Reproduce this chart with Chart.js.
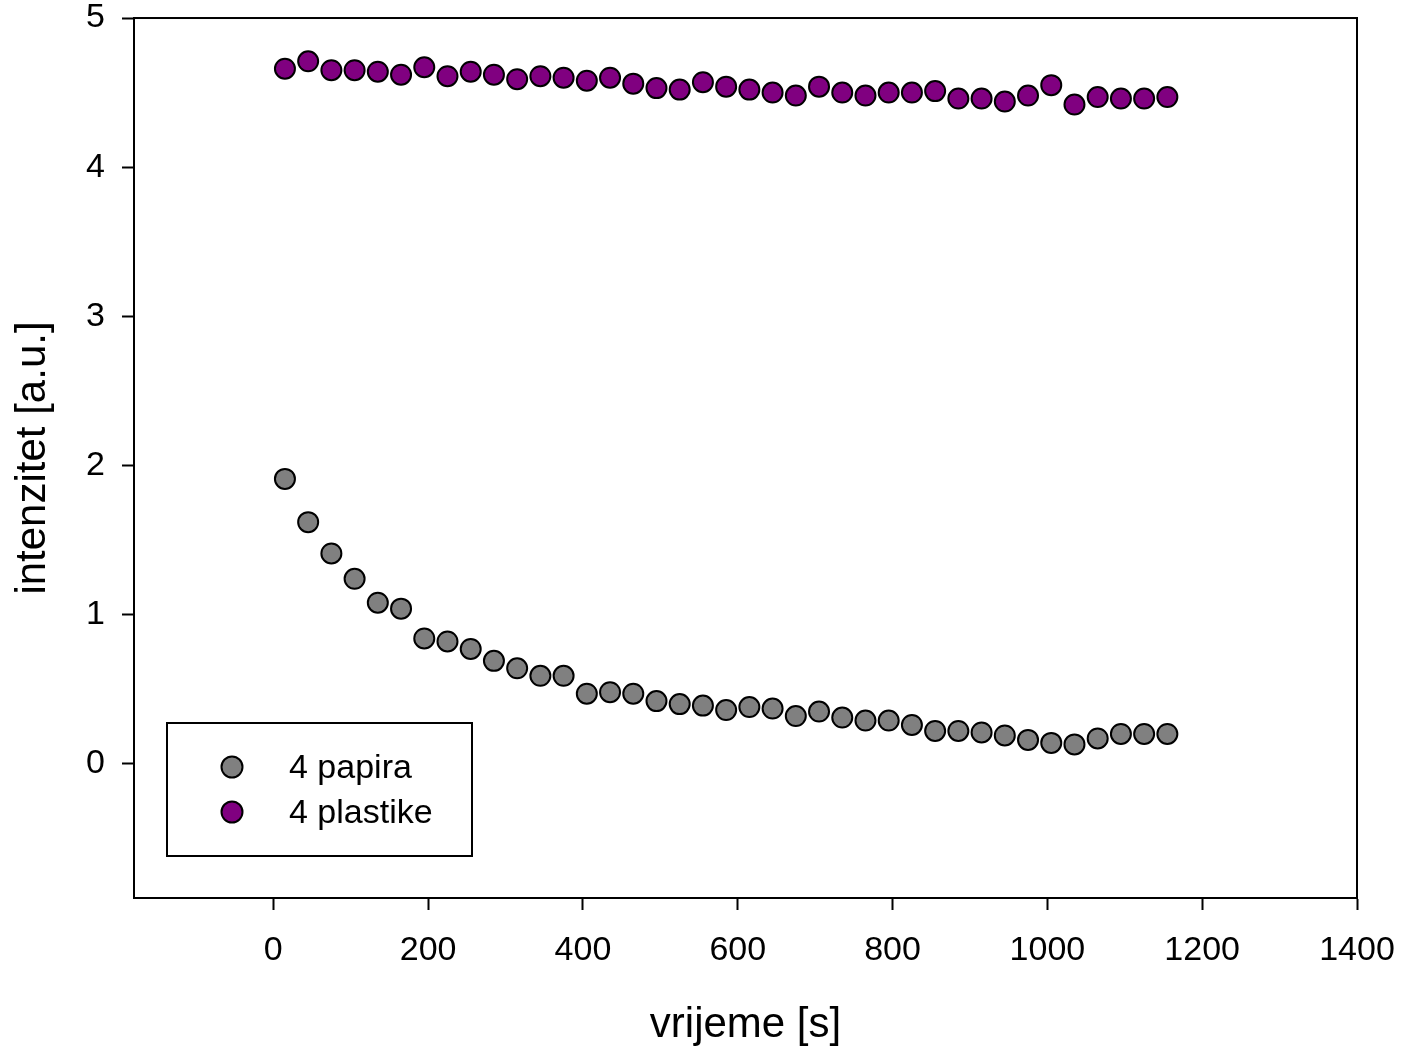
<!DOCTYPE html>
<html>
<head>
<meta charset="utf-8">
<script src="https://cdn.jsdelivr.net/npm/chart.js@4/dist/chart.umd.min.js"></script>
<style>
	html, body { margin: 0; padding: 0; background: #fff; }
	#wrap { width: 1405px; height: 1046px; }
</style>
</head>
<body>
<div id="wrap"><canvas id="intensityChart"></canvas></div>
<script>
const times = [15, 45, 75, 105, 135, 165, 195, 225, 255, 285, 315, 345, 375, 405, 435, 465, 495, 525, 555, 585,
	615, 645, 675, 705, 735, 765, 795, 825, 855, 885, 915, 945, 975, 1005, 1035, 1065, 1095, 1125, 1155];

const papira = [1.91, 1.62, 1.41, 1.24, 1.08, 1.04, 0.84, 0.82, 0.77, 0.69, 0.64, 0.59, 0.59, 0.47, 0.48, 0.47, 0.42, 0.40, 0.39, 0.36,
	0.38, 0.37, 0.32, 0.35, 0.31, 0.29, 0.29, 0.26, 0.22, 0.22, 0.21, 0.19, 0.16, 0.14, 0.13, 0.17, 0.20, 0.20, 0.20];

const plastike = [4.66, 4.71, 4.65, 4.65, 4.64, 4.62, 4.67, 4.61, 4.64, 4.62, 4.59, 4.61, 4.60, 4.58, 4.60, 4.56, 4.53, 4.52, 4.57, 4.54,
	4.52, 4.50, 4.48, 4.54, 4.50, 4.48, 4.50, 4.50, 4.51, 4.46, 4.46, 4.44, 4.48, 4.55, 4.42, 4.47, 4.46, 4.46, 4.47];

const seriesNames = ["4 papira", "4 plastike"];
const seriesColors = ["#808080", "#800080"];
const xTickValues = [0, 200, 400, 600, 800, 1000, 1200, 1400];
const yTickValues = [0, 1, 2, 3, 4, 5];

const FONT = "'Liberation Sans', Arial, sans-serif";

const toPoints = (vals) => vals.map((v, i) => ({ x: times[i], y: v }));

// frame round the plot area + legend box in the lower left
const framePlugin = {
	id: "frame",
	afterDraw(chart) {
		const { ctx, chartArea } = chart;
		ctx.save();
		ctx.strokeStyle = "#000";
		ctx.lineWidth = 2;
		ctx.strokeRect(chartArea.left, chartArea.top, chartArea.right - chartArea.left, chartArea.bottom - chartArea.top);

		// legend
		const bx = chartArea.left + 33;
		const by = chartArea.bottom - 175;
		ctx.strokeRect(bx, by, 305, 133);
		ctx.font = "34px " + FONT;
		ctx.textBaseline = "middle";
		ctx.textAlign = "left";
		seriesNames.forEach((name, i) => {
			const cy = by + 44 + i * 45;
			ctx.beginPath();
			ctx.arc(bx + 65, cy, 10.5, 0, Math.PI * 2);
			ctx.fillStyle = seriesColors[i];
			ctx.fill();
			ctx.lineWidth = 2;
			ctx.strokeStyle = "#000";
			ctx.stroke();
			ctx.fillStyle = "#000";
			ctx.fillText(name, bx + 122, cy + 2);
		});
		ctx.restore();
	},
};

new Chart(document.getElementById("intensityChart").getContext("2d"), {
	type: "scatter",
	data: {
		datasets: [
			{
				label: seriesNames[0],
				data: toPoints(papira),
				backgroundColor: seriesColors[0],
				borderColor: "#000",
				borderWidth: 2,
				pointRadius: 10,
				pointHoverRadius: 10,
			},
			{
				label: seriesNames[1],
				data: toPoints(plastike),
				backgroundColor: seriesColors[1],
				borderColor: "#000",
				borderWidth: 2,
				pointRadius: 10,
				pointHoverRadius: 10,
			},
		],
	},
	options: {
		responsive: true,
		maintainAspectRatio: false,
		animation: false,
		layout: { padding: { top: 0, right: 48, left: 0, bottom: 0 } },
		plugins: {
			legend: { display: false },
			tooltip: { enabled: false },
		},
		scales: {
			x: {
				type: "linear",
				min: -180,
				max: 1400,
				afterBuildTicks: (axis) => {
					axis.ticks = xTickValues.map((v) => ({ value: v }));
				},
				afterFit: (axis) => {
					axis.height = 148;
				},
				grid: { drawOnChartArea: false, drawTicks: true, tickLength: 12, tickWidth: 2, tickColor: "#000" },
				border: { display: true, color: "#000", width: 2 },
				ticks: {
					color: "#000",
					padding: 10,
					maxRotation: 0,
					font: { family: FONT, size: 34, lineHeight: 1.82 },
					callback: (v) => String(v),
				},
				title: {
					display: true,
					text: "vrijeme [s]",
					color: "#000",
					font: { family: FONT, size: 42, lineHeight: 1.0 },
					padding: { top: 0, bottom: 0 },
				},
			},
			y: {
				type: "linear",
				min: -0.9,
				max: 5,
				afterBuildTicks: (axis) => {
					axis.ticks = yTickValues.map((v) => ({ value: v }));
				},
				afterFit: (axis) => {
					axis.width = 134;
				},
				grid: { drawOnChartArea: false, drawTicks: true, tickLength: 12, tickWidth: 2, tickColor: "#000" },
				border: { display: true, color: "#000", width: 2 },
				ticks: {
					color: "#000",
					padding: 17,
					font: { family: FONT, size: 34, lineHeight: 0.06 },
					callback: (v) => String(v),
				},
				title: {
					display: true,
					text: "intenzitet [a.u.]",
					color: "#000",
					font: { family: FONT, size: 42 },
					padding: { top: 8, bottom: 0 },
				},
			},
		},
	},
	plugins: [framePlugin],
});
</script>
</body>
</html>
